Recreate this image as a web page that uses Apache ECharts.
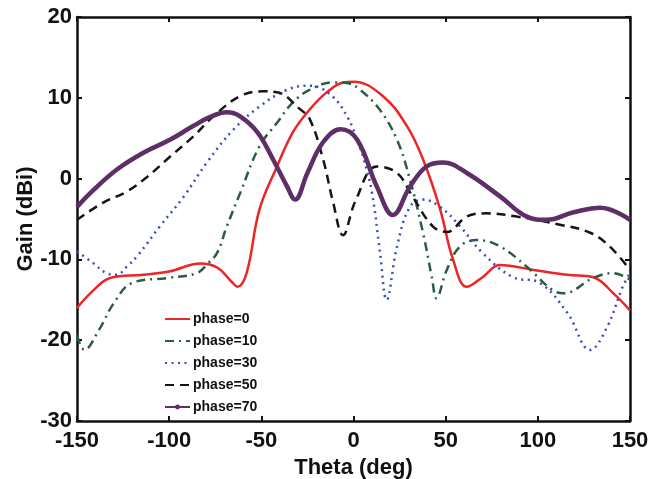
<!DOCTYPE html>
<html>
<head>
<meta charset="utf-8">
<script src="https://cdn.jsdelivr.net/npm/echarts@6/dist/echarts.min.js"></script>
<style>
  html, body { margin: 0; padding: 0; background: #fff; }
  #chart { width: 649px; height: 479px; }
</style>
</head>
<body>
<div id="chart"></div>
<script>
// theta (deg) / gain (dBi) pairs
var theta0 = [-150,-141,-132,-114,-100,-83,-74,-66,-63,-58,-51,-41.5,-33,-23.6,-14.4,-5.7,0,16,29,37.7,47,54,61.5,70,79.5,97.6,116,130,141,150];
var gain0  = [-16,-13.8,-12.3,-11.9,-11.5,-10.5,-11,-12.8,-13.4,-11.7,-3.8,1.5,5.7,8.6,10.7,11.9,12,10.2,6.5,2.4,-3.8,-10,-13.4,-12.2,-10.7,-11.3,-11.9,-12.2,-14.2,-16.3];

var theta10 = [-150,-146,-138,-130,-120,-101,-85,-79,-74,-68.7,-61.5,-51,-41.5,-33,-23.6,-11,-3,3.5,14,23.6,30.6,37.7,42.5,45,50.6,57.8,67,79.5,94,108,114,130,141,150];
var gain10  = [-19.4,-21.2,-18.7,-15.4,-12.9,-12.3,-11.7,-10.5,-9.2,-5.9,-1.8,4,6.9,9.4,11,11.9,11.8,11,8.6,4.8,-0.1,-6.7,-12.2,-14.8,-11.3,-8.4,-7.6,-8.4,-10.9,-13.8,-14.2,-12.3,-11.7,-12.5];

var theta30 = [-150,-141,-134,-128.5,-123,-117,-105,-92,-79.5,-65,-51,-36,-23.6,-12,-3,2.4,5.2,10,14.4,18,23.6,30.6,37.7,47,57.8,70,86.5,101,116,128.4,137.5,146,150];
var gain30  = [-9,-10.5,-11.7,-11.9,-10.9,-9.5,-5.9,-2.2,2,6.1,8.9,11,11.5,10.3,7.5,4.5,2.7,-1.7,-9.2,-15,-8.4,-3.5,-2.6,-3.5,-5.9,-9.2,-12.2,-12.9,-16.6,-21.2,-18.4,-13.4,-11.7];

var theta50 = [-150,-136,-123,-112,-99.6,-87,-76,-61.5,-49,-41.5,-29,-23.6,-16.5,-11,-5.7,1,12.7,23.6,32,43,50.6,61.5,72,88.5,112,128.4,139,150];
var gain50  = [-5.1,-3,-1.6,0.2,2.7,5.2,7.7,10.2,10.8,10.7,8.6,7.3,2.4,-3,-7,-2.8,1.5,0.7,-2.2,-5.9,-6.6,-4.7,-4.3,-4.7,-5.7,-6.7,-8.4,-11.3];

var theta70 = [-150,-141,-128.5,-114,-99.6,-87,-78,-68.7,-61.5,-52,-43.7,-36,-31.7,-25,-16.5,-7,2,12.7,21.4,30.6,39.6,48.6,61.5,79.5,94,105,119,134,150];
var gain70  = [-3.5,-1.4,1.1,3.2,4.8,6.5,7.6,8.2,7.7,5.7,2.4,-1,-2.6,0.7,4.5,6.1,4.8,-1,-4.5,-1,1.5,2,0.7,-2.2,-4.7,-5.1,-4.2,-3.6,-5.1];

var names = ['phase=0', 'phase=10', 'phase=30', 'phase=50', 'phase=70'];

function pairs(xs, ys) {
    return xs.map(function (x, i) { return [x, ys[i]]; });
}

var chart = echarts.init(document.getElementById('chart'));

var font = 'Liberation Sans, Arial, sans-serif';
var axisLine = { onZero: false, lineStyle: { color: '#111', width: 2.5 } };
var tick = { inside: true, length: 5, lineStyle: { color: '#111', width: 2 } };
var tickFont = { fontFamily: font, fontWeight: 'bold', fontSize: 22, color: '#111' };

var option = {
    backgroundColor: '#fff',
    animation: false,
    grid: { left: 77, top: 17, right: 19, bottom: 58, outerBoundsMode: 'none' },
    legend: {
        orient: 'vertical',
        left: 159,
        top: 307,
        itemWidth: 25,
        itemHeight: 6,
        itemGap: 8,
        itemStyle: { opacity: 0 },
        textStyle: { fontFamily: font, fontWeight: 'bold', fontSize: 14, color: '#111', padding: [0, 0, 0, -2] },
        data: [names[0], names[1], names[2], names[3], { name: names[4], itemStyle: { opacity: 1 } }]
    },
    xAxis: [{
        type: 'value', min: -150, max: 150, interval: 50,
        name: 'Theta (deg)', nameLocation: 'middle', nameGap: 29,
        nameTextStyle: tickFont,
        axisLine: axisLine, axisTick: tick, splitLine: { show: false },
        axisLabel: Object.assign({ margin: 9 }, tickFont)
    }, {
        type: 'value', position: 'top', min: -150, max: 150, interval: 50,
        axisLine: axisLine, axisTick: tick, splitLine: { show: false },
        axisLabel: { show: false }
    }],
    yAxis: [{
        type: 'value', min: -30, max: 20, interval: 10,
        name: 'Gain (dBi)', nameLocation: 'middle', nameGap: 40, nameMoveOverlap: false,
        nameTextStyle: tickFont,
        axisLine: axisLine, axisTick: tick, splitLine: { show: false },
        axisLabel: Object.assign({ margin: 5 }, tickFont)
    }, {
        type: 'value', position: 'right', min: -30, max: 20, interval: 10,
        axisLine: axisLine, axisTick: tick, splitLine: { show: false },
        axisLabel: { show: false }
    }],
    series: [{
        name: names[0], type: 'line', smooth: 0.4, symbol: 'none',
        data: pairs(theta0, gain0),
        itemStyle: { color: '#ee2426' },
        lineStyle: { color: '#ee2426', width: 2.5 }
    }, {
        name: names[1], type: 'line', smooth: 0.4, symbol: 'none',
        data: pairs(theta10, gain10),
        itemStyle: { color: '#2b5e3f' },
        lineStyle: { color: '#2b5e3f', width: 2.5, type: [9, 5, 2, 5] }
    }, {
        name: names[2], type: 'line', smooth: 0.4, symbol: 'none',
        data: pairs(theta30, gain30),
        itemStyle: { color: '#3a4cc0' },
        lineStyle: { color: '#3a4cc0', width: 2.5, type: [2, 4.5] }
    }, {
        name: names[3], type: 'line', smooth: 0.4, symbol: 'none',
        data: pairs(theta50, gain50),
        itemStyle: { color: '#151515' },
        lineStyle: { color: '#151515', width: 2.5, type: [9, 6] }
    }, {
        name: names[4], type: 'line', smooth: 0.4, symbol: 'circle', symbolSize: 5, showSymbol: false,
        data: pairs(theta70, gain70),
        itemStyle: { color: '#5e2e66' },
        lineStyle: { color: '#5e2e66', width: 4.5 }
    }]
};

chart.setOption(option);
</script>
</body>
</html>
